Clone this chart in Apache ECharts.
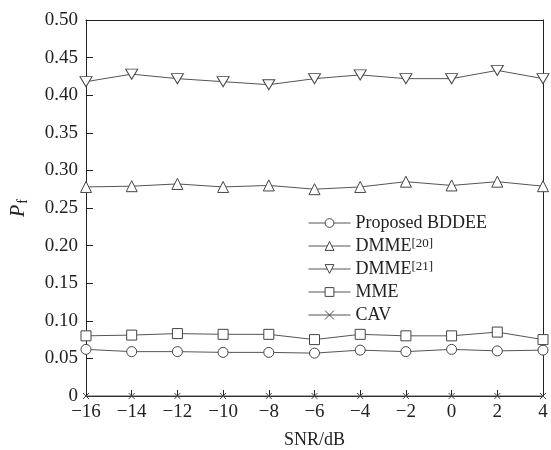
<!DOCTYPE html>
<html><head><meta charset="utf-8">
<script src="https://cdn.jsdelivr.net/npm/echarts@6/dist/echarts.min.js"></script>
<style>html,body{margin:0;padding:0;background:#fff}#c{width:551px;height:450px}</style>
</head><body><div id="c"></div>
<script>
var snr = [-16, -14, -12, -10, -8, -6, -4, -2, 0, 2, 4];
var seriesNames = ['Proposed BDDEE', 'DMME[20]', 'DMME[21]', 'MME', 'CAV'];
var proposed = [0.062, 0.059, 0.059, 0.058, 0.058, 0.057, 0.061, 0.059, 0.062, 0.060, 0.061];
var dmme20 = [0.278, 0.279, 0.282, 0.278, 0.280, 0.275, 0.278, 0.285, 0.280, 0.285, 0.279];
var dmme21 = [0.418, 0.428, 0.422, 0.418, 0.414, 0.422, 0.427, 0.422, 0.422, 0.433, 0.422];
var mme = [0.080, 0.081, 0.083, 0.082, 0.082, 0.075, 0.082, 0.080, 0.080, 0.085, 0.075];
var cav = [0, 0, 0, 0, 0, 0, 0, 0, 0, 0, 0];
var yTicks = ['0', '0.05', '0.10', '0.15', '0.20', '0.25', '0.30', '0.35', '0.40', '0.45', '0.50'];

var FONT = '"Liberation Serif", "DejaVu Serif", serif';
var INK = '#222';
var LINE = '#555';

function pairs(vals) { return snr.map(function (x, i) { return [x, vals[i]]; }); }

var downTri = 'path://M0,0L10,0L5,8Z';
var cross = 'path://M0,0L10,10M10,0L0,10';

function mk(name, vals, symbol, size, extra) {
  var s = {
    name: name, type: 'line', data: pairs(vals),
    symbol: symbol, symbolSize: size, showAllSymbol: true,
    lineStyle: { color: LINE, width: 1 },
    itemStyle: { color: '#fff', borderColor: '#444', borderWidth: 1 },
    emphasis: { disabled: true }, z: 3
  };
  for (var k in extra) s[k] = extra[k];
  return s;
}

var chart = echarts.init(document.getElementById('c'));
chart.setOption({
  animation: false,
  backgroundColor: '#fff',
  textStyle: { fontFamily: FONT },
  grid: { left: 86, right: 8, top: 20, bottom: 54, containLabel: false, outerBoundsMode: 'none' },
  legend: {
    orient: 'vertical', left: 303, top: 209,
    itemWidth: 42, itemHeight: 11, itemGap: 5,
    data: seriesNames,
    lineStyle: { width: 1, color: LINE },
    itemStyle: { borderWidth: 1 },
    textStyle: {
      fontFamily: FONT, fontSize: 18, color: '#222',
      rich: { sup: { fontFamily: FONT, fontSize: 13, color: '#222', verticalAlign: 'top', lineHeight: 12 } }
    },
    formatter: function (n) {
      var m = n.match(/^(.*)(\[\d+\])$/);
      return m ? m[1] + '{sup|' + m[2] + '}' : n;
    }
  },
  xAxis: [{
    type: 'value', min: -16, max: 4, interval: 2,
    name: 'SNR/dB', nameLocation: 'middle', nameGap: 35,
    nameTextStyle: { fontFamily: FONT, fontSize: 18, color: INK },
    axisLine: { onZero: false, lineStyle: { color: INK, width: 1 } },
    axisTick: { inside: true, length: 6, lineStyle: { color: INK } },
    axisLabel: { fontFamily: FONT, fontSize: 19, color: INK, margin: 7,
      formatter: function (v) { return String(v).replace('-', '\u2212'); } },
    splitLine: { show: false }
  }, {
    type: 'value', min: -16, max: 4, position: 'top',
    axisLine: { show: true, onZero: false, lineStyle: { color: INK, width: 1 } },
    axisTick: { show: false }, axisLabel: { show: false }, splitLine: { show: false }
  }],
  yAxis: [{
    type: 'value', min: 0, max: 0.5, interval: 0.05,
    name: '{i|P}{s|f}', nameLocation: 'middle', nameGap: 56, nameRotate: 90,
    nameTextStyle: {
      rich: {
        i: { fontFamily: FONT, fontSize: 20, fontStyle: 'italic', color: INK },
        s: { fontFamily: FONT, fontSize: 14, color: INK, padding: [8, 0, 0, 1] }
      }
    },
    axisLine: { show: true, onZero: false, lineStyle: { color: INK, width: 1 } },
    axisTick: { show: true, inside: true, length: 7, lineStyle: { color: INK } },
    axisLabel: { fontFamily: FONT, fontSize: 19, color: INK, margin: 8,
      formatter: function (v, i) { return yTicks[i]; } },
    splitLine: { show: false }
  }, {
    type: 'value', min: 0, max: 0.5, position: 'right',
    axisLine: { show: true, onZero: false, lineStyle: { color: INK, width: 1 } },
    axisTick: { show: false }, axisLabel: { show: false }, splitLine: { show: false }
  }],
  series: [
    mk(seriesNames[0], proposed, 'circle', 10),
    mk(seriesNames[1], dmme20, 'triangle', 11),
    mk(seriesNames[2], dmme21, downTri, [12, 10]),
    mk(seriesNames[3], mme, 'rect', 10),
    mk(seriesNames[4], cav, cross, 6, { itemStyle: { color: '#444', borderColor: '#444', borderWidth: 1 } })
  ]
});
</script>
</body></html>
